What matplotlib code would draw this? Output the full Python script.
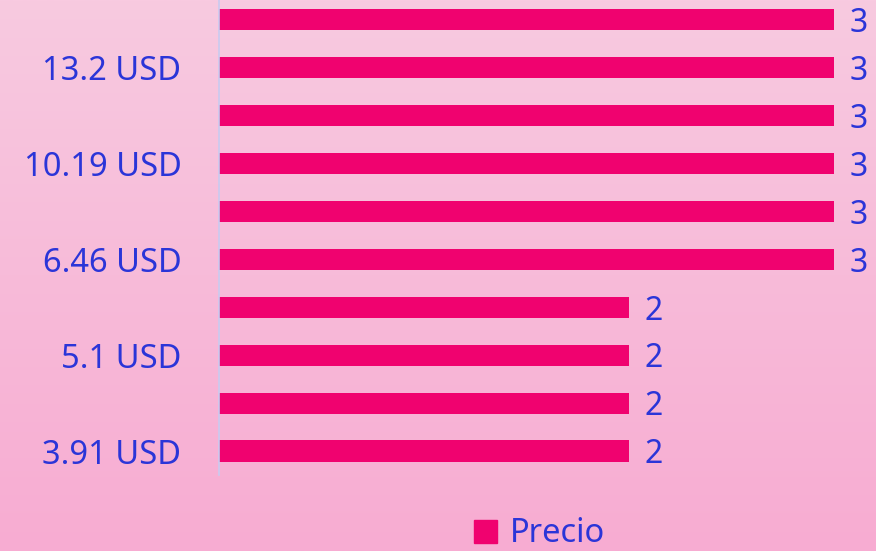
import matplotlib
matplotlib.use("Agg")
import matplotlib.pyplot as plt
import matplotlib.patches as mpatches
import numpy as np

# categories top -> bottom (only every other label is shown in the chart)
categories = ["14.5 USD", "13.2 USD", "11.9 USD", "10.19 USD", "7.5 USD",
              "6.46 USD", "5.5 USD", "5.1 USD", "4.5 USD", "3.91 USD"]
precio = [3, 3, 3, 3, 3, 3, 2, 2, 2, 2]
series_name = "Precio"

bar_color = "#F0026F"
text_color = "#2B35D8"
font = ["Noto Sans", "DejaVu Sans"]

W, H = 876, 551
fig = plt.figure(figsize=(W / 100, H / 100), dpi=100)

# gradient background
bg = fig.add_axes([0, 0, 1, 1], zorder=-10)
top = np.array([248, 202, 224]) / 255
bottom = np.array([247, 172, 210]) / 255
t = np.linspace(0, 1, 256)[:, None]
grad = top * (1 - t) + bottom * t
bg.imshow(grad[:, None, :], aspect="auto", extent=[0, 1, 0, 1])
bg.axis("off")

# plot area in pixels
left, right = 219, 876
y_top, y_bot = -4.5, 475
ax = fig.add_axes([left / W, 1 - y_bot / H, (right - left) / W, (y_bot - y_top) / H])
ax.patch.set_alpha(0)

y = np.arange(len(categories))
ax.barh(y, precio, height=0.44, color=bar_color)
ax.set_ylim(len(categories) - 0.5, -0.5)
ax.set_xlim(0, 3.205)

ax.set_yticks(y)
ax.set_yticklabels([c if i % 2 == 1 else "" for i, c in enumerate(categories)],
                   color=text_color, fontsize=23.5, family=font)
ax.tick_params(axis="y", length=0, pad=27)
ax.set_xticks([])

for s in ["top", "right", "bottom"]:
    ax.spines[s].set_visible(False)
ax.spines["left"].set_color("#C9CBF0")
ax.spines["left"].set_linewidth(1.2)

for yi, v in zip(y, precio):
    ax.text(v + 0.075, yi + 0.08, str(v), va="center", ha="left",
            color=text_color, fontsize=23, family=font)

handle = mpatches.Patch(color=bar_color, label=series_name)
leg = fig.legend(handles=[handle], loc="center", bbox_to_anchor=(540 / W, 1 - 534 / H),
                 frameon=False, handlelength=0.7, handleheight=0.7,
                 handletextpad=0.4, borderpad=0.1, prop={"family": font, "size": 23.5})
for txt in leg.get_texts():
    txt.set_color(text_color)

fig.savefig("out.png", dpi=100)
